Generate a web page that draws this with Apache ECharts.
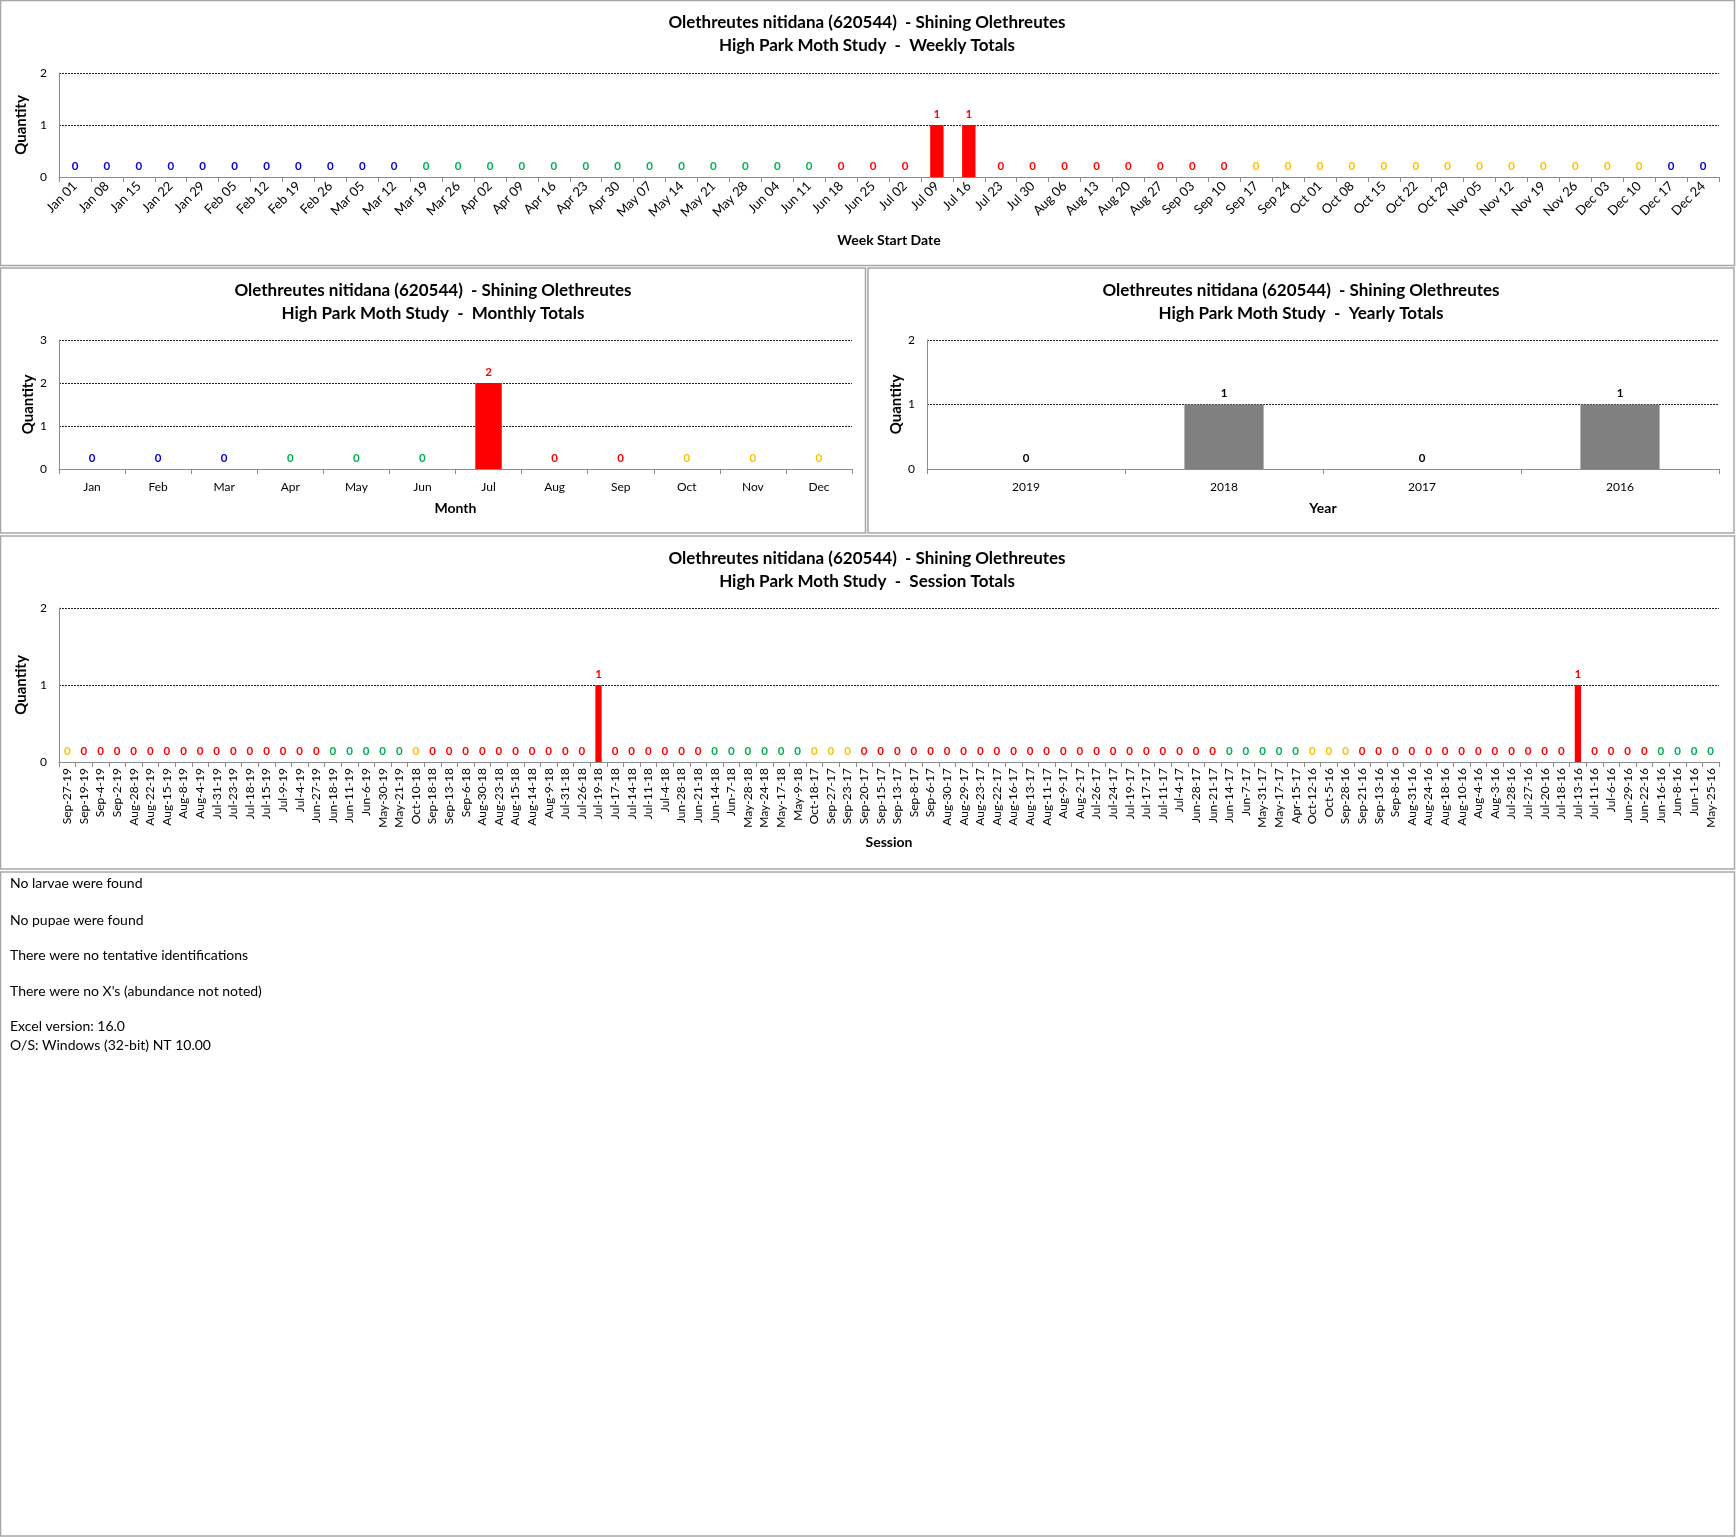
<!DOCTYPE html>
<html><head><meta charset="utf-8">
<script src="https://cdn.jsdelivr.net/npm/echarts@6/dist/echarts.min.js"></script>
<style>html,body{margin:0;padding:0;background:#fff}#c{width:1736px;height:1538px}</style>
</head><body><div id="c"></div>
<script>
const weekCats = ['Jan 01','Jan 08','Jan 15','Jan 22','Jan 29','Feb 05','Feb 12','Feb 19','Feb 26','Mar 05','Mar 12','Mar 19','Mar 26','Apr 02','Apr 09','Apr 16','Apr 23','Apr 30','May 07','May 14','May 21','May 28','Jun 04','Jun 11','Jun 18','Jun 25','Jul 02','Jul 09','Jul 16','Jul 23','Jul 30','Aug 06','Aug 13','Aug 20','Aug 27','Sep 03','Sep 10','Sep 17','Sep 24','Oct 01','Oct 08','Oct 15','Oct 22','Oct 29','Nov 05','Nov 12','Nov 19','Nov 26','Dec 03','Dec 10','Dec 17','Dec 24'];
const weekVals = [0,0,0,0,0,0,0,0,0,0, 0,0,0,0,0,0,0,0,0,0, 0,0,0,0,0,0,0,1,1,0, 0,0,0,0,0,0,0,0,0,0, 0,0,0,0,0,0,0,0,0,0, 0,0];
const weekSeason = 'BBBBBBBBBBBGGGGGGGGGGGGGRRRRRRRRRRRRRYYYYYYYYYYYYYBB';

const monthCats = ['Jan','Feb','Mar','Apr','May','Jun','Jul','Aug','Sep','Oct','Nov','Dec'];
const monthVals = [0,0,0,0,0,0,2,0,0,0,0,0];
const monthSeason = 'BBBGGGRRRYYY';

const yearCats = ['2019','2018','2017','2016'];
const yearVals = [0,1,0,1];

const sessCats = ['Sep-27-19','Sep-19-19','Sep-4-19','Sep-2-19','Aug-28-19','Aug-22-19','Aug-15-19','Aug-8-19','Aug-4-19','Jul-31-19','Jul-23-19','Jul-18-19','Jul-15-19','Jul-9-19','Jul-4-19','Jun-27-19','Jun-18-19','Jun-11-19','Jun-6-19','May-30-19','May-21-19','Oct-10-18','Sep-18-18','Sep-13-18','Sep-6-18','Aug-30-18','Aug-23-18','Aug-15-18','Aug-14-18','Aug-9-18','Jul-31-18','Jul-26-18','Jul-19-18','Jul-17-18','Jul-14-18','Jul-11-18','Jul-4-18','Jun-28-18','Jun-21-18','Jun-14-18','Jun-7-18','May-28-18','May-24-18','May-17-18','May-9-18','Oct-18-17','Sep-27-17','Sep-23-17','Sep-20-17','Sep-15-17','Sep-13-17','Sep-8-17','Sep-6-17','Aug-30-17','Aug-29-17','Aug-23-17','Aug-22-17','Aug-16-17','Aug-13-17','Aug-11-17','Aug-9-17','Aug-2-17','Jul-26-17','Jul-24-17','Jul-19-17','Jul-17-17','Jul-11-17','Jul-4-17','Jun-28-17','Jun-21-17','Jun-14-17','Jun-7-17','May-31-17','May-17-17','Apr-15-17','Oct-12-16','Oct-5-16','Sep-28-16','Sep-21-16','Sep-13-16','Sep-8-16','Aug-31-16','Aug-24-16','Aug-18-16','Aug-10-16','Aug-4-16','Aug-3-16','Jul-28-16','Jul-27-16','Jul-20-16','Jul-18-16','Jul-13-16','Jul-11-16','Jul-6-16','Jun-29-16','Jun-22-16','Jun-16-16','Jun-8-16','Jun-1-16','May-25-16'];
const sessVals = [0,0,0,0,0,0,0,0,0,0, 0,0,0,0,0,0,0,0,0,0, 0,0,0,0,0,0,0,0,0,0, 0,0,1,0,0,0,0,0,0,0, 0,0,0,0,0,0,0,0,0,0, 0,0,0,0,0,0,0,0,0,0, 0,0,0,0,0,0,0,0,0,0, 0,0,0,0,0,0,0,0,0,0, 0,0,0,0,0,0,0,0,0,0, 0,1,0,0,0,0,0,0,0,0];
const sessSeason = 'YRRRRRRRRRRRRRRRGGGGGYRRRRRRRRRRRRRRRRRGGGGGGYYYRRRRRRRRRRRRRRRRRRRRRRGGGGGYYYRRRRRRRRRRRRRRRRRRGGGG';

const notes = ['No larvae were found','No pupae were found','There were no tentative identifications',"There were no X's (abundance not noted)",'Excel version: 16.0','O/S: Windows (32-bit) NT 10.00'];

const SC = {B:'#0000CC', G:'#00B050', R:'#FF0000', Y:'#FFC000', K:'#000000'};
const FF = 'Lato, "Open Sans", sans-serif';
const T1 = 'Olethreutes nitidana (620544)  - Shining Olethreutes';

function mkData(vals, season, barCol){
  return vals.map((v,i)=>{
    const c = season ? SC[season[i]] : '#000';
    return {value:v, itemStyle:{color: barCol || c}, label:{color:c}};
  });
}

const grids = [
  {left:59, top:73, width:1660, height:104},
  {left:59, top:340, width:793, height:129},
  {left:927, top:340, width:792, height:129},
  {left:59, top:608, width:1660, height:154}
];

function xAx(idx, cats, name, gap, rot, fs){
  return {type:'category', gridIndex:idx, data:cats,
    axisLine:{lineStyle:{color:'#8c8c8c', width:1}},
    axisTick:{show:true, length:5, lineStyle:{color:'#8c8c8c'}},
    axisLabel:{interval:0, rotate:rot, fontSize:fs, color:'#000', fontFamily:FF, margin: rot===90?6:(rot?7:12)},
    name:name, nameLocation:'middle', nameGap:gap,
    nameTextStyle:{fontSize:14, fontWeight:'bold', color:'#000', fontFamily:FF}};
}
function yAx(idx, max){
  return {type:'value', gridIndex:idx, min:0, max:max, interval:1,
    axisLine:{show:true, lineStyle:{color:'#8c8c8c'}},
    axisTick:{show:false},
    axisLabel:{fontSize:12, color:'#000', fontFamily:FF, margin:12},
    splitLine:{show:true, lineStyle:{color:'#222', type:[2,1], width:1}},
    name:'Quantity', nameLocation:'middle', nameGap:21, nameRotate:90,
    nameTextStyle:{fontSize:15, fontWeight:'bold', color:'#000', fontFamily:FF}};
}
const lbl = {show:true, position:'top', distance:5, fontSize:11.5, fontWeight:'bold', fontFamily:FF};

const titleStyle = {fontSize:17, fontWeight:'bold', color:'#000', fontFamily:FF, lineHeight:23};
const titles = [
  {text:T1+'\nHigh Park Moth Study  -  Weekly Totals', left:867, top:11},
  {text:T1+'\nHigh Park Moth Study  -  Monthly Totals', left:433, top:279},
  {text:T1+'\nHigh Park Moth Study  -  Yearly Totals', left:1301, top:279},
  {text:T1+'\nHigh Park Moth Study  -  Session Totals', left:867, top:547}
].map(t=>({text:t.text, left:t.left, top:t.top, textAlign:'center', textStyle:titleStyle, padding:0}));

const noteY = [876, 913, 948, 984, 1019, 1038];
const graphic = [
  {type:'rect', shape:{x:0.5,y:0.5,width:1734,height:265}, style:{fill:'none', stroke:'#a6a6a6', lineWidth:1.5}},
  {type:'rect', shape:{x:0.5,y:268,width:865,height:265}, style:{fill:'none', stroke:'#a6a6a6', lineWidth:1.5}},
  {type:'rect', shape:{x:868,y:268,width:866,height:265}, style:{fill:'none', stroke:'#a6a6a6', lineWidth:1.5}},
  {type:'rect', shape:{x:0.5,y:536,width:1734,height:333}, style:{fill:'none', stroke:'#a6a6a6', lineWidth:1.5}},
  {type:'rect', shape:{x:0.5,y:872,width:1734,height:664}, style:{fill:'none', stroke:'#a6a6a6', lineWidth:1.5}}
].concat(notes.map((t,i)=>({type:'text', left:10, top:noteY[i], style:{text:t, fontSize:14, fill:'#000', fontFamily:FF}})));

const option = {
  animation:false,
  backgroundColor:'#fff',
  title: titles,
  grid: grids,
  xAxis:[
    xAx(0, weekCats, 'Week Start Date', 56, 45, 13),
    xAx(1, monthCats, 'Month', 32, 0, 12),
    xAx(2, yearCats, 'Year', 32, 0, 12),
    xAx(3, sessCats, 'Session', 73, 90, 12)
  ],
  yAxis:[yAx(0,2), yAx(1,3), yAx(2,2), yAx(3,2)],
  series:[
    {type:'bar', xAxisIndex:0, yAxisIndex:0, barWidth:'42%', data:mkData(weekVals, weekSeason), label:lbl},
    {type:'bar', xAxisIndex:1, yAxisIndex:1, barWidth:'40%', data:mkData(monthVals, monthSeason), label:lbl},
    {type:'bar', xAxisIndex:2, yAxisIndex:2, barWidth:'40%', data:mkData(yearVals, null, '#808080'), label:lbl},
    {type:'bar', xAxisIndex:3, yAxisIndex:3, barWidth:'38%', data:mkData(sessVals, sessSeason), label:lbl}
  ],
  graphic: graphic
};
const chart = echarts.init(document.getElementById('c'), null, {renderer:'canvas'});
chart.setOption(option);
</script>
</body></html>
